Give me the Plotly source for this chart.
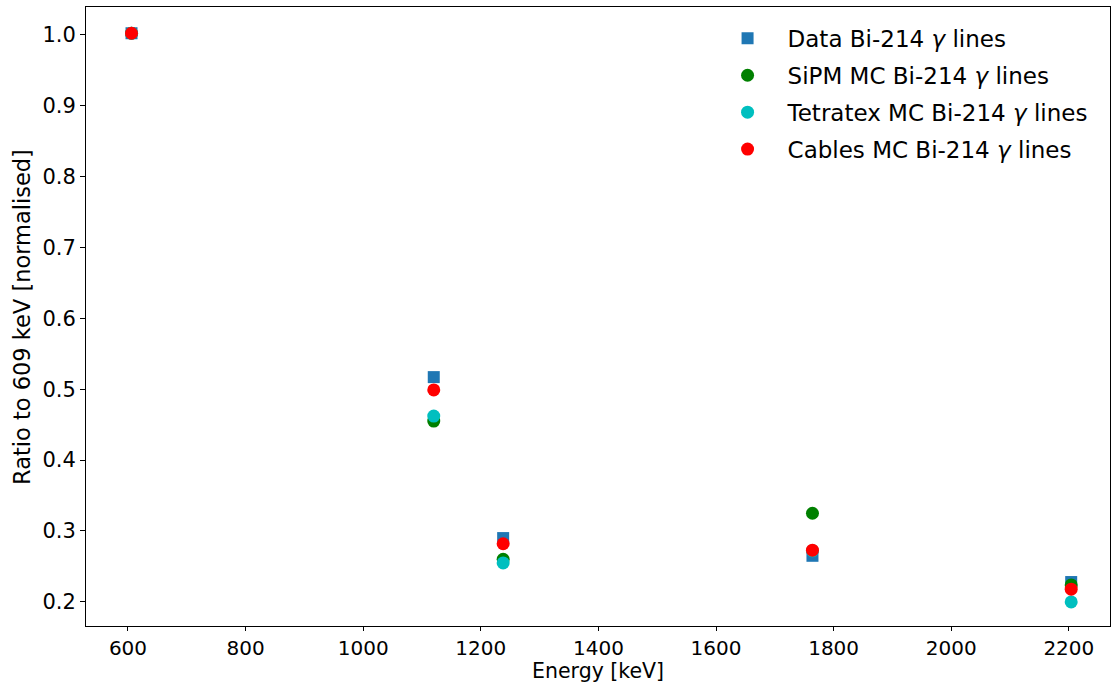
import plotly.graph_objects as go

energies = [606, 1120, 1238, 1764, 2204]
data_ratio = [1.002, 0.517, 0.290, 0.265, 0.228]
sipm_ratio = [1.002, 0.455, 0.260, 0.325, 0.224]
tetratex_ratio = [1.002, 0.462, 0.255, 0.272, 0.200]
cables_ratio = [1.002, 0.499, 0.282, 0.273, 0.218]

x_ticks = [600, 800, 1000, 1200, 1400, 1600, 1800, 2000, 2200]
y_ticks = [0.2, 0.3, 0.4, 0.5, 0.6, 0.7, 0.8, 0.9, 1.0]

series = [
    ("Data Bi-214 <i>γ</i> lines", data_ratio, "#1f77b4", "square", 12),
    ("SiPM MC Bi-214 <i>γ</i> lines", sipm_ratio, "#008000", "circle", 13),
    ("Tetratex MC Bi-214 <i>γ</i> lines", tetratex_ratio, "#00bfbf", "circle", 13),
    ("Cables MC Bi-214 <i>γ</i> lines", cables_ratio, "#ff0000", "circle", 13),
]

fig = go.Figure()
for i, (name, vals, color, sym, size) in enumerate(series):
    fig.add_trace(go.Scatter(
        x=energies, y=vals, mode="markers", name=name,
        legendgroup=f"g{i}",
        marker=dict(color=color, symbol=sym, size=size, line=dict(width=0)),
    ))

fs = 21
xfs = 20
tfs = 20.5
fig.update_layout(
    width=1112, height=684,
    margin=dict(l=86, r=2, t=7, b=58),
    paper_bgcolor="white", plot_bgcolor="white",
    font=dict(family="DejaVu Sans", size=fs, color="black"),
    showlegend=True,
    legend=dict(x=0.607, y=0.984, xanchor="left", yanchor="top",
                bgcolor="rgba(0,0,0,0)", font=dict(family="DejaVu Sans", size=23),
                tracegroupgap=4, itemwidth=70),
    xaxis=dict(range=[528.6, 2270], tickvals=x_ticks, ticks="outside", ticklen=4,
               tickwidth=1, tickcolor="black", showline=True, linecolor="black",
               linewidth=1, mirror=True, showgrid=False, zeroline=False,
               tickfont=dict(size=xfs)),
    yaxis=dict(range=[0.166, 1.039], tickvals=y_ticks, tickformat=".1f",
               ticks="outside", ticklen=5, tickwidth=1, tickcolor="black",
               showline=True, linecolor="black", linewidth=1, mirror=True,
               showgrid=False, zeroline=False,
               tickfont=dict(size=fs)),
    annotations=[
        dict(text="Energy [keV]", xref="paper", yref="paper", x=0.5, y=-0.0735,
             xanchor="center", yanchor="middle", showarrow=False,
             font=dict(size=tfs, family="DejaVu Sans", color="black")),
        dict(text="Ratio to 609 keV [normalised]", xref="paper", yref="paper",
             x=-0.063, y=0.5, xanchor="center", yanchor="middle", textangle=-90,
             showarrow=False, font=dict(size=22.5, family="DejaVu Sans", color="black")),
    ],
)

fig.write_html("out.html")
